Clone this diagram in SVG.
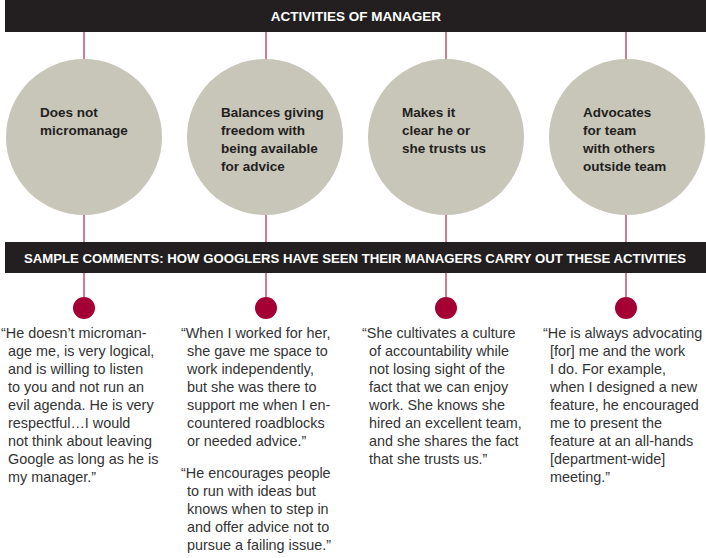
<svg xmlns="http://www.w3.org/2000/svg" width="706" height="558" viewBox="0 0 706 558">
<style>
.bar{fill:#231f20}
.bartext{font-family:"Liberation Sans",Arial,sans-serif;font-weight:bold;font-size:13.5px;fill:#ffffff}
.circ{fill:#c8c6b9}
.ctext{font-family:"Liberation Sans",Arial,sans-serif;font-weight:bold;font-size:13.5px;fill:#231f20}
.qtext{font-family:"Liberation Sans",Arial,sans-serif;font-size:14.4px;fill:#333333}
.conn{stroke:#c0506e;stroke-width:1.5;fill:none}
.dot{fill:#a50034}
</style>
<rect width="706" height="558" fill="#ffffff"/>
<g id="connectors">
<line class="conn" x1="84" y1="32" x2="84" y2="300"/>
<line class="conn" x1="266" y1="32" x2="266" y2="300"/>
<line class="conn" x1="446" y1="32" x2="446" y2="300"/>
<line class="conn" x1="626" y1="32" x2="626" y2="300"/>
</g>
<g id="header-activities">
<rect class="bar" x="5" y="0" width="701" height="32"/>
<text class="bartext" x="356" y="21" text-anchor="middle">ACTIVITIES OF MANAGER</text>
</g>
<g id="activity-1">
<circle class="circ" cx="84" cy="137" r="78"/>
<text class="ctext"><tspan x="40" y="117">Does not</tspan><tspan x="40" y="135">micromanage</tspan></text>
</g>
<g id="activity-2">
<circle class="circ" cx="265" cy="137" r="78"/>
<text class="ctext"><tspan x="221" y="117">Balances giving</tspan><tspan x="221" y="135">freedom with</tspan><tspan x="221" y="153">being available</tspan><tspan x="221" y="171">for advice</tspan></text>
</g>
<g id="activity-3">
<circle class="circ" cx="446" cy="137" r="78"/>
<text class="ctext"><tspan x="402" y="117">Makes it</tspan><tspan x="402" y="135">clear he or</tspan><tspan x="402" y="153">she trusts us</tspan></text>
</g>
<g id="activity-4">
<circle class="circ" cx="627" cy="137" r="78"/>
<text class="ctext"><tspan x="583" y="117">Advocates</tspan><tspan x="583" y="135">for team</tspan><tspan x="583" y="153">with others</tspan><tspan x="583" y="171">outside team</tspan></text>
</g>
<g id="header-comments">
<rect class="bar" x="5" y="242" width="701" height="31"/>
<text class="bartext" x="24" y="263" textLength="662" lengthAdjust="spacingAndGlyphs">SAMPLE COMMENTS: HOW GOOGLERS HAVE SEEN THEIR MANAGERS CARRY OUT THESE ACTIVITIES</text>
</g>
<g id="comment-1">
<circle class="dot" cx="84" cy="308" r="11"/>
<text class="qtext"><tspan x="1" y="338">“He doesn’t microman-</tspan><tspan x="8" y="356">age me, is very logical,</tspan><tspan x="8" y="374">and is willing to listen</tspan><tspan x="8" y="392">to you and not run an</tspan><tspan x="8" y="410">evil agenda. He is very</tspan><tspan x="8" y="428">respectful…I would</tspan><tspan x="8" y="446">not think about leaving</tspan><tspan x="8" y="464">Google as long as he is</tspan><tspan x="8" y="482">my manager.”</tspan></text>
</g>
<g id="comment-2">
<circle class="dot" cx="266" cy="308" r="11"/>
<text class="qtext"><tspan x="181" y="338">“When I worked for her,</tspan><tspan x="187" y="356">she gave me space to</tspan><tspan x="187" y="374">work independently,</tspan><tspan x="187" y="392">but she was there to</tspan><tspan x="187" y="410">support me when I en-</tspan><tspan x="187" y="428">countered roadblocks</tspan><tspan x="187" y="446">or needed advice.”</tspan></text>
<text class="qtext"><tspan x="181" y="478">“He encourages people</tspan><tspan x="187" y="496">to run with ideas but</tspan><tspan x="187" y="514">knows when to step in</tspan><tspan x="187" y="532">and offer advice not to</tspan><tspan x="187" y="550">pursue a failing issue.”</tspan></text>
</g>
<g id="comment-3">
<circle class="dot" cx="446" cy="308" r="11"/>
<text class="qtext"><tspan x="362" y="338">“She cultivates a culture</tspan><tspan x="369" y="356">of accountability while</tspan><tspan x="369" y="374">not losing sight of the</tspan><tspan x="369" y="392">fact that we can enjoy</tspan><tspan x="369" y="410">work. She knows she</tspan><tspan x="369" y="428">hired an excellent team,</tspan><tspan x="369" y="446">and she shares the fact</tspan><tspan x="369" y="464">that she trusts us.”</tspan></text>
</g>
<g id="comment-4">
<circle class="dot" cx="626" cy="308" r="11"/>
<text class="qtext"><tspan x="543" y="338">“He is always advocating</tspan><tspan x="550" y="356">[for] me and the work</tspan><tspan x="550" y="374">I do. For example,</tspan><tspan x="550" y="392">when I designed a new</tspan><tspan x="550" y="410">feature, he encouraged</tspan><tspan x="550" y="428">me to present the</tspan><tspan x="550" y="446">feature at an all-hands</tspan><tspan x="550" y="464">[department-wide]</tspan><tspan x="550" y="482">meeting.”</tspan></text>
</g>
</svg>
